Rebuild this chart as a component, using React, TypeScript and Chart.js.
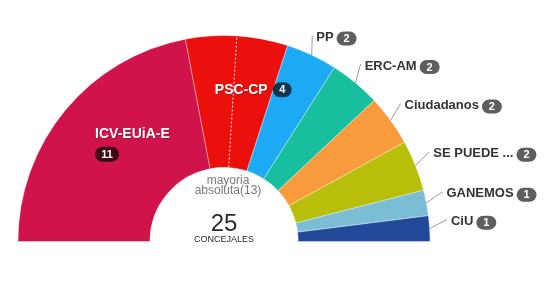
import React, { useEffect, useRef } from "react";
import { Chart, registerables } from "chart.js";

Chart.register(...registerables);

const parties = ["ICV-EUiA-E", "PSC-CP", "PP", "ERC-AM", "Ciudadanos", "SE PUEDE ...", "GANEMOS", "CiU"];
const seats = [11, 4, 2, 2, 2, 2, 1, 1];
const colors = ["#D0134A", "#EC100C", "#1DAAF5", "#17BF9F", "#F89B3C", "#B7BF0B", "#7BBDD5", "#22489A"];
const innerBadgeColors = ["#3D0913", "#0E3550"];
const majority = 13;
const totalLabel = "25";
const totalCaption = "CONCEJALES";
const majorityLines = ["mayoria", "absoluta(13)"];

const FONT = "Arial, 'Liberation Sans', sans-serif";

function pill(ctx: CanvasRenderingContext2D, x: number, cy: number, w: number, h: number, color: string, text: string) {
  const r = h / 2;
  ctx.beginPath();
  ctx.moveTo(x + r, cy - r);
  ctx.lineTo(x + w - r, cy - r);
  ctx.arc(x + w - r, cy, r, -Math.PI / 2, Math.PI / 2);
  ctx.lineTo(x + r, cy + r);
  ctx.arc(x + r, cy, r, Math.PI / 2, Math.PI * 1.5);
  ctx.closePath();
  ctx.fillStyle = color;
  ctx.fill();
  ctx.fillStyle = "#fff";
  ctx.font = `bold 11px ${FONT}`;
  ctx.textAlign = "center";
  ctx.textBaseline = "middle";
  ctx.fillText(text, x + w / 2, cy + 0.5);
}

const labelPlugin = {
  id: "parliamentLabels",
  afterDraw(chart: any) {
    const ctx: CanvasRenderingContext2D = chart.ctx;
    const meta = chart.getDatasetMeta(0);
    const arcs = meta.data as any[];
    if (!arcs.length) return;
    const cx = arcs[0].x;
    const cy = arcs[0].y;
    const R = arcs[0].outerRadius;
    const r0 = arcs[0].innerRadius;
    const total = seats.reduce((a, b) => a + b, 0);
    ctx.save();

    // majority dotted line
    const ma = Math.PI + Math.PI * (majority / total);
    ctx.strokeStyle = "rgba(255,255,255,0.95)";
    ctx.lineWidth = 1;
    ctx.setLineDash([2, 2]);
    ctx.beginPath();
    ctx.moveTo(cx + r0 * Math.cos(ma), cy + r0 * Math.sin(ma));
    ctx.lineTo(cx + R * Math.cos(ma), cy + R * Math.sin(ma));
    ctx.stroke();
    ctx.setLineDash([]);

    // inner labels
    const innerOffsets = [
      { dx: -21, dy: -18, wrap: true },
      { dx: -18, dy: -12, wrap: false },
    ];
    for (let i = 0; i < 2; i++) {
      const a = arcs[i];
      const mid = (a.startAngle + a.endAngle) / 2;
      const rr = (a.innerRadius + a.outerRadius) / 2;
      const ax = cx + rr * Math.cos(mid);
      const ay = cy + rr * Math.sin(mid);
      const o = innerOffsets[i];
      const tx = ax + o.dx;
      const ty = ay + o.dy;
      ctx.font = `bold 14px ${FONT}`;
      ctx.textAlign = "left";
      ctx.textBaseline = "middle";
      ctx.fillStyle = "rgba(0,0,0,0.25)";
      ctx.fillText(parties[i], tx + 1, ty + 1);
      ctx.fillStyle = "#fff";
      ctx.fillText(parties[i], tx, ty);
      const txt = String(seats[i]);
      const bw = txt.length > 1 ? 24 : 19;
      if (o.wrap) {
        pill(ctx, tx, ty + 20, bw, 15, innerBadgeColors[i], txt);
      } else {
        const w = ctx.measureText(parties[i]).width;
        ctx.font = `bold 14px ${FONT}`;
        pill(ctx, tx + w + 5, ty, bw, 15, innerBadgeColors[i], txt);
      }
    }

    // outer labels
    for (let i = 2; i < arcs.length; i++) {
      const a = arcs[i];
      const mid = (a.startAngle + a.endAngle) / 2;
      const sx = cx + R * Math.cos(mid);
      const sy = cy + R * Math.sin(mid);
      const ea = mid - (2 * Math.PI) / 180;
      const er = R + 18;
      const ex = cx + er * Math.cos(ea);
      const ey = cy + er * Math.sin(ea);
      ctx.strokeStyle = "#9a9a9a";
      ctx.lineWidth = 1;
      ctx.beginPath();
      ctx.moveTo(sx, sy);
      ctx.lineTo(ex, ey);
      ctx.stroke();
      ctx.font = `bold 13px ${FONT}`;
      ctx.textAlign = "left";
      ctx.textBaseline = "middle";
      ctx.fillStyle = "#333";
      const tx = ex + 4;
      const ty = ey + 2;
      ctx.fillText(parties[i], tx, ty);
      const w = ctx.measureText(parties[i]).width;
      const txt = String(seats[i]);
      pill(ctx, tx + w + 3, ty + 1, txt.length > 1 ? 24 : 20, 14, "#5E5E5E", txt);
    }

    // center texts
    ctx.textAlign = "center";
    ctx.textBaseline = "middle";
    ctx.fillStyle = "#7a7a7a";
    ctx.font = `12px ${FONT}`;
    ctx.fillText(majorityLines[0], cx + 4, cy - 61);
    ctx.fillText(majorityLines[1], cx + 4, cy - 51);
    ctx.fillStyle = "#2a2a2a";
    ctx.font = `24px ${FONT}`;
    ctx.fillText(totalLabel, cx, cy - 17);
    ctx.font = `9px ${FONT}`;
    ctx.fillText(totalCaption, cx, cy - 2);
    ctx.restore();
  },
};

export default function App() {
  const ref = useRef<HTMLCanvasElement>(null);
  useEffect(() => {
    if (!ref.current) return;
    const chart = new Chart(ref.current, {
      type: "doughnut",
      data: {
        labels: parties,
        datasets: [
          {
            data: seats,
            backgroundColor: colors,
            borderColor: "rgba(255,255,255,0.35)",
            borderWidth: 1,
          },
        ],
      },
      options: {
        responsive: false,
        animation: false,
        rotation: -90,
        circumference: 180,
        cutout: "36%",
        layout: { padding: { left: 17, right: 114, top: 35, bottom: 41 } },
        plugins: { legend: { display: false }, tooltip: { enabled: false } },
      },
      plugins: [labelPlugin],
    });
    return () => chart.destroy();
  }, []);
  return (
    <div style={{ position: "fixed", left: 0, top: 0, width: 545, height: 283, background: "#fff" }}>
      <canvas ref={ref} width={545} height={283} style={{ width: 545, height: 283, display: "block" }} />
    </div>
  );
}
